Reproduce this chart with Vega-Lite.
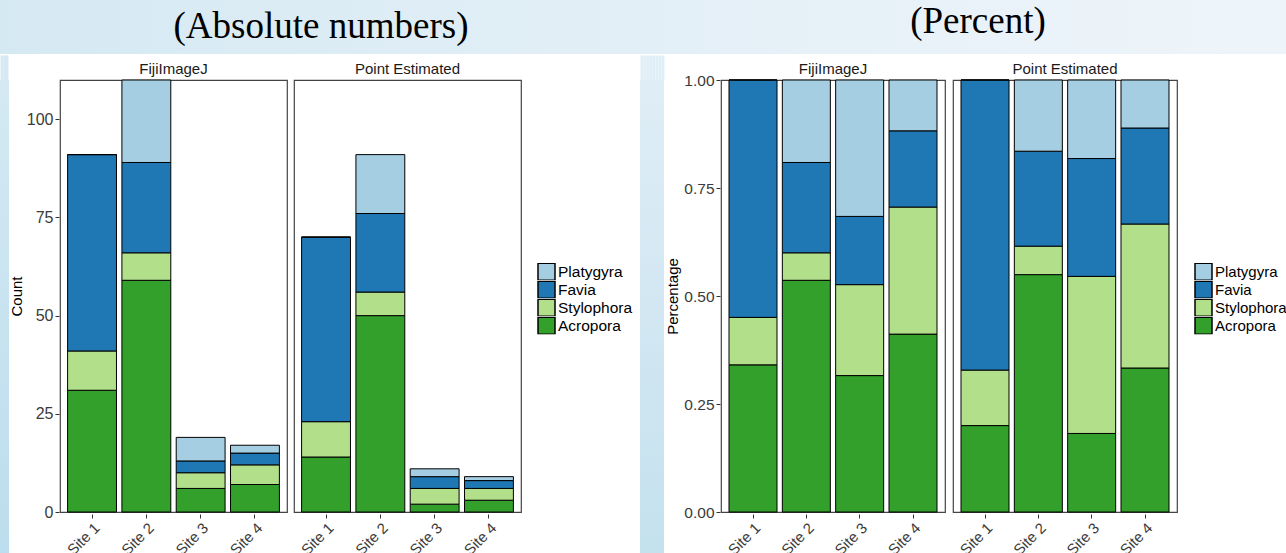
{
  "$schema": "https://vega.github.io/schema/vega-lite/v6.json",
  "background": "white",
  "padding": 0,
  "spacing": 0,
  "config": {
    "font": "Liberation Sans",
    "view": {"stroke": "#444444", "strokeWidth": 1.2},
    "axis": {
      "labelFont": "Liberation Sans",
      "labelColor": "#3b3b3b",
      "labelFontSize": 16,
      "tickColor": "#333333",
      "tickSize": 4,
      "tickWidth": 1,
      "labelPadding": 2,
      "domain": false,
      "grid": false,
      "titleFont": "Liberation Sans",
      "titleFontSize": 15,
      "titleFontWeight": "normal",
      "titleColor": "black"
    },
    "header": {
      "labelFont": "Liberation Sans",
      "labelFontSize": 15,
      "labelColor": "#1a1a1a",
      "labelPadding": 1
    },
    "legend": {
      "title": null,
      "orient": "none",
      "padding": 0,
      "symbolType": "square",
      "symbolSize": 289,
      "symbolStrokeColor": "black",
      "symbolStrokeWidth": 1.5,
      "labelFont": "Liberation Sans",
      "labelFontSize": 15.5,
      "labelColor": "black",
      "labelOffset": 2,
      "clipHeight": 17.3,
      "rowPadding": 0
    }
  },
  "datasets": {
    "coral": [
      {"method": "FijiImageJ", "site": "Site 1", "genus": "Acropora", "count": 31},
      {"method": "FijiImageJ", "site": "Site 1", "genus": "Stylophora", "count": 10},
      {"method": "FijiImageJ", "site": "Site 1", "genus": "Favia", "count": 50},
      {"method": "FijiImageJ", "site": "Site 1", "genus": "Platygyra", "count": 0},
      {"method": "FijiImageJ", "site": "Site 2", "genus": "Acropora", "count": 59},
      {"method": "FijiImageJ", "site": "Site 2", "genus": "Stylophora", "count": 7},
      {"method": "FijiImageJ", "site": "Site 2", "genus": "Favia", "count": 23},
      {"method": "FijiImageJ", "site": "Site 2", "genus": "Platygyra", "count": 21},
      {"method": "FijiImageJ", "site": "Site 3", "genus": "Acropora", "count": 6},
      {"method": "FijiImageJ", "site": "Site 3", "genus": "Stylophora", "count": 4},
      {"method": "FijiImageJ", "site": "Site 3", "genus": "Favia", "count": 3},
      {"method": "FijiImageJ", "site": "Site 3", "genus": "Platygyra", "count": 6},
      {"method": "FijiImageJ", "site": "Site 4", "genus": "Acropora", "count": 7},
      {"method": "FijiImageJ", "site": "Site 4", "genus": "Stylophora", "count": 5},
      {"method": "FijiImageJ", "site": "Site 4", "genus": "Favia", "count": 3},
      {"method": "FijiImageJ", "site": "Site 4", "genus": "Platygyra", "count": 2},
      {"method": "Point Estimated", "site": "Site 1", "genus": "Acropora", "count": 14},
      {"method": "Point Estimated", "site": "Site 1", "genus": "Stylophora", "count": 9},
      {"method": "Point Estimated", "site": "Site 1", "genus": "Favia", "count": 47},
      {"method": "Point Estimated", "site": "Site 1", "genus": "Platygyra", "count": 0},
      {"method": "Point Estimated", "site": "Site 2", "genus": "Acropora", "count": 50},
      {"method": "Point Estimated", "site": "Site 2", "genus": "Stylophora", "count": 6},
      {"method": "Point Estimated", "site": "Site 2", "genus": "Favia", "count": 20},
      {"method": "Point Estimated", "site": "Site 2", "genus": "Platygyra", "count": 15},
      {"method": "Point Estimated", "site": "Site 3", "genus": "Acropora", "count": 2},
      {"method": "Point Estimated", "site": "Site 3", "genus": "Stylophora", "count": 4},
      {"method": "Point Estimated", "site": "Site 3", "genus": "Favia", "count": 3},
      {"method": "Point Estimated", "site": "Site 3", "genus": "Platygyra", "count": 2},
      {"method": "Point Estimated", "site": "Site 4", "genus": "Acropora", "count": 3},
      {"method": "Point Estimated", "site": "Site 4", "genus": "Stylophora", "count": 3},
      {"method": "Point Estimated", "site": "Site 4", "genus": "Favia", "count": 2},
      {"method": "Point Estimated", "site": "Site 4", "genus": "Platygyra", "count": 1}
    ],
    "genera": [
      {"genus": "Platygyra", "level": 1},
      {"genus": "Favia", "level": 2},
      {"genus": "Stylophora", "level": 3},
      {"genus": "Acropora", "level": 4}
    ]
  },
  "resolve": {"scale": {"color": "independent"}, "legend": {"color": "independent"}},
  "vconcat": [
    {
      "width": 1286,
      "height": 54,
      "view": {
        "stroke": null,
        "fill": {
          "gradient": "linear", "x1": 0, "y1": 0, "x2": 1, "y2": 0,
          "stops": [{"offset": 0, "color": "#d5e9f3"}, {"offset": 0.5, "color": "#e3eff7"}, {"offset": 1, "color": "#eef5fa"}]
        }
      },
      "data": {"values": [
        {"chart": "Absolute", "heading": "(Absolute numbers)"},
        {"chart": "Percent", "heading": "(Percent)"}
      ]},
      "mark": {"type": "text", "font": "Liberation Serif", "fontSize": 37, "color": "black", "baseline": "middle"},
      "encoding": {
        "x": {"field": "chart", "type": "nominal", "axis": null, "scale": {"type": "point", "range": [321, 978], "padding": 0}},
        "y": {"field": "chart", "type": "nominal", "axis": null, "scale": {"type": "point", "range": [27, 22], "padding": 0}},
        "text": {"field": "heading"}
      }
    },
    {
      "spacing": 0,
      "resolve": {
        "scale": {"color": "independent", "x": "independent", "y": "independent"},
        "legend": {"color": "independent"}
      },
      "hconcat": [
        {
          "width": 9,
          "height": 473,
          "view": {
            "stroke": null,
            "fill": {
              "gradient": "linear", "x1": 0, "y1": 0, "x2": 0, "y2": 1,
              "stops": [{"offset": 0, "color": "#d4e9f3"}, {"offset": 1, "color": "#bcdded"}]
            }
          },
          "data": {"values": []},
          "mark": "point",
          "encoding": {
            "x": {
              "field": "slot", "type": "quantitative", "scale": {"domain": [0, 1]},
              "axis": {"orient": "top", "values": [0.16667, 0.5, 0.83333], "labels": false, "title": null, "translate": 0,
                       "minExtent": 0, "labelPadding": 0,
                       "tickSize": 24.5, "tickWidth": 3, "tickCap": "butt", "tickColor": "#d5e9f3"}
            }
          }
        },
        {
          "data": {"name": "coral"},
          "transform": [
            {"lookup": "genus", "from": {"data": {"name": "genera"}, "key": "genus", "fields": ["level"]}}
          ],
          "facet": {
            "column": {"field": "method", "type": "nominal", "title": null, "sort": ["FijiImageJ", "Point Estimated"]}
          },
          "spacing": 5,
          "spec": {
            "width": 227,
            "height": 432,
            "mark": {"type": "bar", "stroke": "black", "strokeWidth": 1},
            "encoding": {
              "x": {
                "field": "site", "type": "nominal", "title": null,
                "scale": {"paddingInner": 0.1, "paddingOuter": 0.14},
                "axis": {"labelAngle": -45, "labelAlign": "right", "labelBaseline": "top", "labelFontSize": 15}
              },
              "y": {
                "field": "count", "type": "quantitative", "stack": "zero",
                "scale": {"domain": [0, 110], "nice": false},
                "axis": {"values": [0, 25, 50, 75, 100], "title": "Count", "titlePadding": 2}
              },
              "color": {
                "field": "genus", "type": "nominal",
                "scale": {
                  "domain": ["Platygyra", "Favia", "Stylophora", "Acropora"],
                  "range": ["#a6cee3", "#1f78b4", "#b2df8a", "#33a02c"]
                },
                "legend": {"legendX": 470, "legendY": 176, "padding": 7}
              },
              "order": {"field": "level", "type": "quantitative", "sort": "descending"}
            }
          }
        },
        {
          "width": 24,
          "height": 473,
          "view": {
            "stroke": null,
            "fill": {
              "gradient": "linear", "x1": 0, "y1": 0, "x2": 0, "y2": 1,
              "stops": [{"offset": 0, "color": "#dfedf6"}, {"offset": 1, "color": "#c4e1ee"}]
            }
          },
          "data": {"values": []},
          "mark": "point",
          "encoding": {
            "x": {
              "field": "slot", "type": "quantitative", "scale": {"domain": [0, 1]},
              "axis": {"orient": "top", "values": [0.0625, 0.1875, 0.3125, 0.4375, 0.5625, 0.6875, 0.8125, 0.9375],
                       "labels": false, "title": null, "translate": 0,
                       "minExtent": 0, "labelPadding": 0,
                       "tickSize": 24.5, "tickWidth": 3, "tickCap": "butt", "tickColor": "#e0eef7"}
            }
          }
        },
        {
          "data": {"name": "coral"},
          "transform": [
            {"lookup": "genus", "from": {"data": {"name": "genera"}, "key": "genus", "fields": ["level"]}}
          ],
          "facet": {
            "column": {"field": "method", "type": "nominal", "title": null, "sort": ["FijiImageJ", "Point Estimated"]}
          },
          "spacing": 6,
          "spec": {
            "width": 224,
            "height": 432,
            "mark": {"type": "bar", "stroke": "black", "strokeWidth": 1},
            "encoding": {
              "x": {
                "field": "site", "type": "nominal", "title": null,
                "scale": {"paddingInner": 0.1, "paddingOuter": 0.15},
                "axis": {"labelAngle": -45, "labelAlign": "right", "labelBaseline": "top", "labelFontSize": 15}
              },
              "y": {
                "field": "count", "type": "quantitative", "stack": "normalize",
                "scale": {"domain": [0, 1], "nice": false},
                "axis": {
                  "values": [0, 0.25, 0.5, 0.75, 1],
                  "labelExpr": "format(datum.value, '.2f')",
                  "title": "Percentage", "titlePadding": 3, "labelFontSize": 15.5
                }
              },
              "color": {
                "field": "genus", "type": "nominal",
                "scale": {
                  "domain": ["Platygyra", "Favia", "Stylophora", "Acropora"],
                  "range": ["#a6cee3", "#1f78b4", "#b2df8a", "#33a02c"]
                },
                "legend": {"legendX": 473, "legendY": 183, "labelFontSize": 15}
              },
              "order": {"field": "level", "type": "quantitative", "sort": "descending"}
            }
          }
        }
      ]
    }
  ]
}
